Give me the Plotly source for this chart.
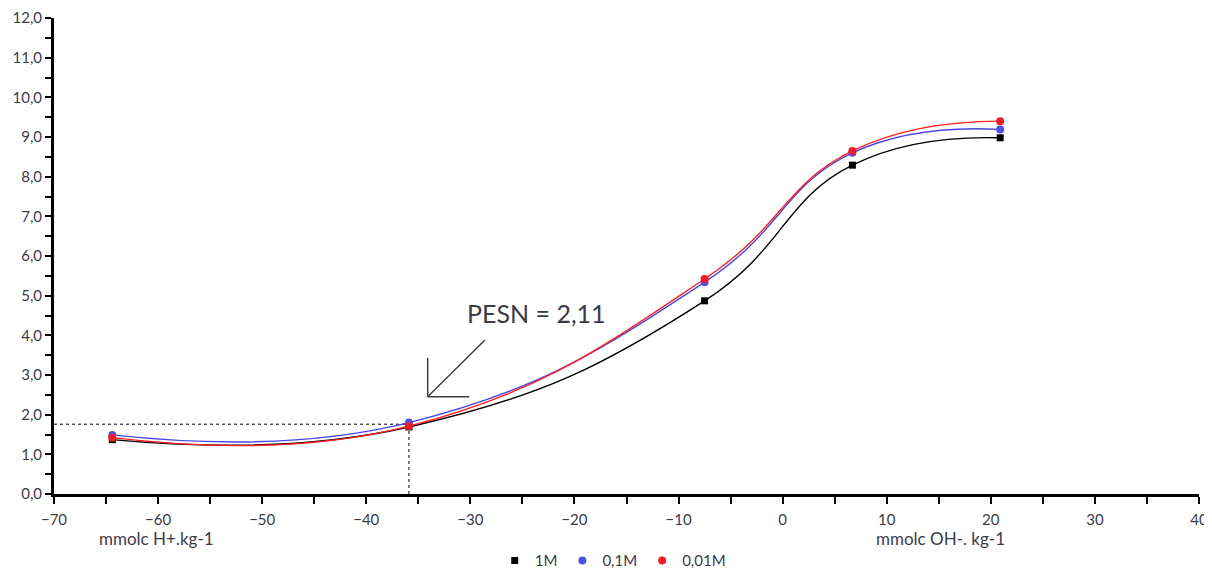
import plotly.graph_objects as go

x_vals = [-64.4, -35.9, -7.5, 6.7, 20.9]
y_1M = [1.37, 1.69, 4.87, 8.29, 8.98]
y_01M = [1.49, 1.80, 5.34, 8.60, 9.19]
y_001M = [1.42, 1.71, 5.42, 8.65, 9.40]
series_names = ["1M", "0,1M", "0,01M"]
pesn_x = -35.9
pesn_y = 1.76
pesn_label = "PESN = 2,11"
x_ticks = list(range(-70, 41, 10))
y_ticks = [i for i in range(0, 13)]
y_tick_labels = [f"{v},0" for v in y_ticks]

font_family = "Lato, 'Open Sans', Arial, sans-serif"
text_color = "#3b3b48"

series = [
    (y_1M, series_names[0], "black", "black", "square", 7),
    (y_01M, series_names[1], "#4848e8", "#5050e0", "circle", 8),
    (y_001M, series_names[2], "#ff2020", "#ee1c25", "circle", 8),
]

fig = go.Figure()
for ys, name, lc, mc, sym, sz in series:
    fig.add_trace(go.Scatter(x=x_vals, y=ys, name=name, mode="lines", showlegend=False,
                             line=dict(color=lc, width=1.4, shape="spline", smoothing=1.3),
                             hoverinfo="skip"))
for ys, name, lc, mc, sym, sz in series:
    fig.add_trace(go.Scatter(x=x_vals, y=ys, name=name, mode="markers",
                             marker=dict(symbol=sym, size=sz, color=mc)))

# dotted guide lines
fig.add_shape(type="line", x0=-70, x1=pesn_x, y0=pesn_y, y1=pesn_y,
              line=dict(color="black", width=1, dash="dot"), layer="below")
fig.add_shape(type="line", x0=pesn_x, x1=pesn_x, y0=0, y1=pesn_y,
              line=dict(color="black", width=1, dash="dot"), layer="below")

# arrow pointing to PESN
fig.add_shape(type="line", x0=-28.6, y0=3.88, x1=-34.1, y1=2.45, line=dict(color="#404040", width=1.5))
fig.add_shape(type="line", x0=-34.1, y0=3.43, x1=-34.1, y1=2.45, line=dict(color="#404040", width=1.5))
fig.add_shape(type="line", x0=-34.1, y0=2.45, x1=-30.1, y1=2.45, line=dict(color="#404040", width=1.5))

fig.add_annotation(x=-23.6, y=4.56, text=pesn_label, showarrow=False,
                   font=dict(size=25, color=text_color, family=font_family))

fig.add_annotation(x=-60.2, y=-0.068, yref="paper", xref="x", text="mmolc H+.kg-1", showarrow=False,
                   yanchor="top", font=dict(size=17, color=text_color, family=font_family))
fig.add_annotation(x=15.2, y=-0.068, yref="paper", xref="x", text="mmolc OH-. kg-1", showarrow=False,
                   yanchor="top", font=dict(size=17, color=text_color, family=font_family))

fig.update_xaxes(range=[-70, 40], tickvals=x_ticks, ticks="outside", ticklen=7, tickwidth=2,
                 tickcolor="black", showline=True, linecolor="black", linewidth=3,
                 showgrid=False, zeroline=False, automargin=False, ticklabelstandoff=3,
                 minor=dict(dtick=5, tick0=0, ticks="outside", ticklen=7, tickwidth=2, tickcolor="black"),
                 tickfont=dict(size=15, color=text_color, family=font_family))
fig.update_yaxes(range=[0, 12], tickvals=y_ticks, ticktext=y_tick_labels, ticks="outside", ticklen=6,
                 tickwidth=2, tickcolor="black", showline=True, linecolor="black", linewidth=3,
                 showgrid=False, zeroline=False, automargin=False,
                 minor=dict(dtick=0.5, tick0=0, ticks="outside", ticklen=6, tickwidth=2, tickcolor="black"),
                 tickfont=dict(size=15, color=text_color, family=font_family))

fig.update_layout(width=1204, height=562, plot_bgcolor="white", paper_bgcolor="white",
                  margin=dict(l=46, r=13, t=10, b=76, autoexpand=False),
                  showlegend=True,
                  legend=dict(orientation="h", x=0.488, xanchor="center", y=-0.14, yanchor="middle",
                              font=dict(size=15, color=text_color, family=font_family),
                              itemwidth=30, tracegroupgap=0))

fig.write_html("out.html")
